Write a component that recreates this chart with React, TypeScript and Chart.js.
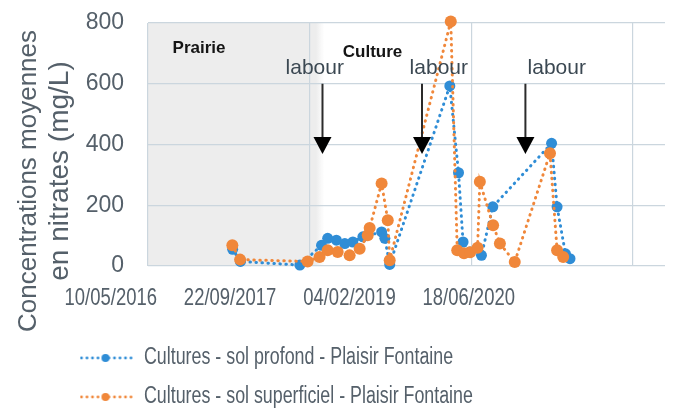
import React, { useEffect, useRef } from "react";
import { Chart, registerables } from "chart.js";

Chart.register(...registerables);

// ---------- data ----------
const xTickLabels = ["10/05/2016", "22/09/2017", "04/02/2019", "18/06/2020"];
const xMinDate = "2016-05-10";
const xSpanDays = 1600;
const yMin = 0;
const yMax = 800;
const yStep = 200;

const seriesLabels = [
  "Cultures - sol profond - Plaisir Fontaine",
  "Cultures - sol superficiel - Plaisir Fontaine",
];

const profondDates = [
  "2017-01-27", "2017-02-20", "2017-08-23", "2017-10-29", "2017-11-17", "2017-12-14",
  "2018-01-09", "2018-02-03", "2018-03-06", "2018-05-03", "2018-05-13", "2018-05-28",
  "2018-11-30", "2018-12-27", "2019-01-10", "2019-01-31", "2019-03-08", "2019-04-12",
  "2019-10-11", "2019-10-28", "2019-11-23", "2019-12-07",
];
const profondValues = [
  55, 15, 3, 68, 91, 85,
  74, 79, 96, 112, 91, 5,
  593, 307, 79, 46, 35, 195,
  404, 195, 40, 24,
];

const superficielDates = [
  "2017-01-26", "2017-02-19", "2017-09-16", "2017-10-23", "2017-11-17", "2017-12-18",
  "2018-01-24", "2018-02-24", "2018-03-21", "2018-03-27", "2018-05-03", "2018-05-22",
  "2018-05-28", "2018-12-03", "2018-12-23", "2019-01-13", "2019-02-01", "2019-02-24",
  "2019-03-03", "2019-04-13", "2019-05-04", "2019-06-19", "2019-10-06", "2019-10-28",
  "2019-11-16",
];
const superficielValues = [
  68, 21, 15, 30, 52, 46,
  35, 57, 101, 125, 272, 151,
  19, 805, 52, 42, 45, 60,
  277, 134, 74, 13, 371, 52,
  30,
];

const yTitleLines = ["Concentrations moyennes", "en nitrates (mg/L)"];

const prairieEndDate = "2017-10-12";
const zoneLabels = ["Prairie", "Culture"];
const zoneLabelDates = ["2016-10-15", "2018-04-05"];
const zoneLabelValues = [718, 705];

const labourText = "labour";
const labourArrowDates = ["2017-11-01", "2018-09-05", "2019-07-22"];
const labourTextDates = ["2017-10-08", "2018-10-27", "2019-10-27"];
const labourArrowTop = 600;
const labourArrowTip = 369;
const labourTextValue = 652;

// ---------- helpers ----------
const dayIso = (iso: string) => {
  const [y, m, d] = iso.split("-").map(Number);
  return Date.UTC(y, m - 1, d) / 86400000;
};
const dayFr = (s: string) => {
  const [d, m, y] = s.split("/").map(Number);
  return Date.UTC(y, m - 1, d) / 86400000;
};

const BLUE = "#2f8dd6";
const ORANGE = "#f0873a";
const TEXT = "#55606a";
const GRID = "#cbd6de";
const SANS = '"Liberation Sans", Arial, sans-serif';
const LABEL_SQUEEZE = 0.7385;
const LABEL_SHIFT = 1.5;

function makeLegendIcon(color: string) {
  const c = document.createElement("canvas");
  c.width = 54;
  c.height = 12;
  const g = c.getContext("2d")!;
  g.fillStyle = color;
  for (let px = 2; px < 54; px += 5.5) {
    g.beginPath();
    g.arc(px, 6, 1.4, 0, Math.PI * 2);
    g.fill();
  }
  g.beginPath();
  g.arc(26, 6, 4, 0, Math.PI * 2);
  g.fill();
  return c;
}

function drawCondensed(ctx: CanvasRenderingContext2D, text: string, x: number, y: number, sx: number, align: CanvasTextAlign) {
  ctx.save();
  ctx.translate(x, y);
  ctx.scale(sx, 1);
  ctx.textAlign = align;
  ctx.fillText(text, 0, 0);
  ctx.restore();
}

const decorPlugin = {
  id: "decor",
  beforeDraw(chart: any) {
    const { ctx, chartArea } = chart;
    const x = chart.scales.x;
    const x0 = chartArea.left;
    const x1 = x.getPixelForValue(dayIso(prairieEndDate));
    const h = chartArea.bottom - chartArea.top;
    ctx.save();
    ctx.fillStyle = "#ededed";
    ctx.fillRect(x0, chartArea.top, x1 - x0, h);
    const g = ctx.createLinearGradient(x1, 0, x1 + 8, 0);
    g.addColorStop(0, "rgba(237,237,237,1)");
    g.addColorStop(1, "rgba(237,237,237,0)");
    ctx.fillStyle = g;
    ctx.fillRect(x1, chartArea.top, 8, h);
    ctx.restore();
  },
  afterDraw(chart: any) {
    const { ctx, chartArea } = chart;
    const x = chart.scales.x;
    const y = chart.scales.y;
    ctx.save();

    // y axis title (two lines, rotated)
    ctx.fillStyle = TEXT;
    ctx.textAlign = "center";
    ctx.textBaseline = "middle";
    const titlePos = [
      [29, 181, 26],
      [60, 171, 28],
    ];
    yTitleLines.forEach((t, i) => {
      ctx.save();
      ctx.font = `${titlePos[i][2]}px ${SANS}`;
      ctx.translate(titlePos[i][0], titlePos[i][1]);
      ctx.rotate(-Math.PI / 2);
      ctx.fillText(t, 0, 0);
      ctx.restore();
    });

    // x tick labels (condensed, as in the reference)
    ctx.font = `24px ${SANS}`;
    ctx.fillStyle = TEXT;
    const labelY = chartArea.bottom + 32;
    xTickLabels.forEach((t) => {
      const px = x.getPixelForValue(dayFr(t));
      drawCondensed(ctx, t, LABEL_SHIFT + LABEL_SQUEEZE * px, labelY, 0.77, "center");
    });

    // legend texts (condensed) at the legend's own item positions
    const legend = chart.legend;
    if (legend && legend.legendHitBoxes) {
      ctx.font = `23px ${SANS}`;
      ctx.fillStyle = TEXT;
      legend.legendHitBoxes.forEach((hb: any, i: number) => {
        const item = legend.legendItems[i];
        drawCondensed(ctx, item.text, hb.left + 53 + 11, hb.top + 11, 0.775, "left");
      });
    }

    // zone labels
    ctx.font = `bold 17px ${SANS}`;
    ctx.fillStyle = "#151515";
    ctx.textAlign = "center";
    zoneLabels.forEach((t, i) => {
      ctx.fillText(t, x.getPixelForValue(dayIso(zoneLabelDates[i])), y.getPixelForValue(zoneLabelValues[i]));
    });

    // labour arrows
    labourArrowDates.forEach((d, i) => {
      const ax = x.getPixelForValue(dayIso(d));
      const yTop = y.getPixelForValue(labourArrowTop);
      const yTip = y.getPixelForValue(labourArrowTip);
      ctx.strokeStyle = "#2b2b2b";
      ctx.lineWidth = 2;
      ctx.beginPath();
      ctx.moveTo(ax, yTop);
      ctx.lineTo(ax, yTip - 14);
      ctx.stroke();
      ctx.fillStyle = "#000";
      ctx.beginPath();
      ctx.moveTo(ax - 9, yTip - 17);
      ctx.lineTo(ax + 9, yTip - 17);
      ctx.lineTo(ax, yTip);
      ctx.closePath();
      ctx.fill();

      ctx.font = `21px ${SANS}`;
      ctx.fillStyle = "#3b4852";
      ctx.fillText(labourText, x.getPixelForValue(dayIso(labourTextDates[i])), y.getPixelForValue(labourTextValue));
    });
    ctx.restore();
  },
};

export default function App() {
  const ref = useRef<HTMLCanvasElement | null>(null);

  useEffect(() => {
    if (!ref.current) return;
    const icons = [makeLegendIcon(BLUE), makeLegendIcon(ORANGE)];
    const xMin = dayIso(xMinDate);
    const tickValues = xTickLabels.map(dayFr);

    const chart = new Chart(ref.current, {
      type: "line",
      data: {
        datasets: [
          {
            label: seriesLabels[0],
            data: profondDates.map((d, i) => ({ x: dayIso(d), y: profondValues[i] })),
            borderColor: BLUE,
            backgroundColor: BLUE,
            pointBackgroundColor: BLUE,
            borderWidth: 3,
            borderDash: [0.5, 5.5],
            borderCapStyle: "round",
            pointRadius: 5.5,
            pointBorderWidth: 0,
            tension: 0,
            clip: false,
            order: 2,
          },
          {
            label: seriesLabels[1],
            data: superficielDates.map((d, i) => ({ x: dayIso(d), y: superficielValues[i] })),
            borderColor: ORANGE,
            backgroundColor: ORANGE,
            pointBackgroundColor: ORANGE,
            borderWidth: 3,
            borderDash: [0.5, 5.5],
            borderCapStyle: "round",
            pointRadius: 6,
            pointBorderWidth: 0,
            tension: 0,
            clip: false,
            order: 1,
          },
        ] as any,
      },
      options: {
        animation: false,
        responsive: false,
        maintainAspectRatio: false,
        layout: { padding: { left: 63, right: 34, top: 23, bottom: 1 } },
        scales: {
          x: {
            type: "linear",
            min: xMin,
            max: xMin + xSpanDays,
            afterBuildTicks: (scale: any) => {
              scale.ticks = tickValues.map((v) => ({ value: v }));
            },
            afterFit: (scale: any) => {
              scale.height = 64;
              scale.paddingLeft = 0;
              scale.paddingRight = 0;
            },
            ticks: { display: false },
            grid: { color: GRID, lineWidth: 1.2, drawTicks: false },
            border: { display: false },
          },
          y: {
            min: yMin,
            max: yMax,
            ticks: {
              stepSize: yStep,
              padding: 24,
              color: TEXT,
              font: { family: SANS, size: 23 },
            },
            afterFit: (scale: any) => {
              scale.width = 85;
              scale.paddingTop = 0;
              scale.paddingBottom = 0;
            },
            grid: { color: GRID, lineWidth: 1.2, drawTicks: false },
            border: { display: false },
          },
        },
        plugins: {
          legend: {
            position: "bottom",
            align: "start",
            labels: {
              usePointStyle: true,
              pointStyleWidth: 53,
              padding: 17,
              color: "rgba(0,0,0,0)",
              font: { family: SANS, size: 22 },
              generateLabels: (c: any) =>
                c.data.datasets.map((ds: any, i: number) => ({
                  text: ds.label,
                  pointStyle: icons[i],
                  fillStyle: ds.borderColor,
                  strokeStyle: ds.borderColor,
                  lineWidth: 0,
                  hidden: false,
                  datasetIndex: i,
                  fontColor: "rgba(0,0,0,0)",
                })),
            },
          },
          tooltip: { enabled: false },
        },
      } as any,
      plugins: [decorPlugin],
    });
    return () => chart.destroy();
  }, []);

  return (
    <div style={{ position: "fixed", left: 0, top: 0, width: 699, height: 419, background: "#fff" }}>
      <canvas ref={ref} width={699} height={419} style={{ display: "block" }} />
    </div>
  );
}
